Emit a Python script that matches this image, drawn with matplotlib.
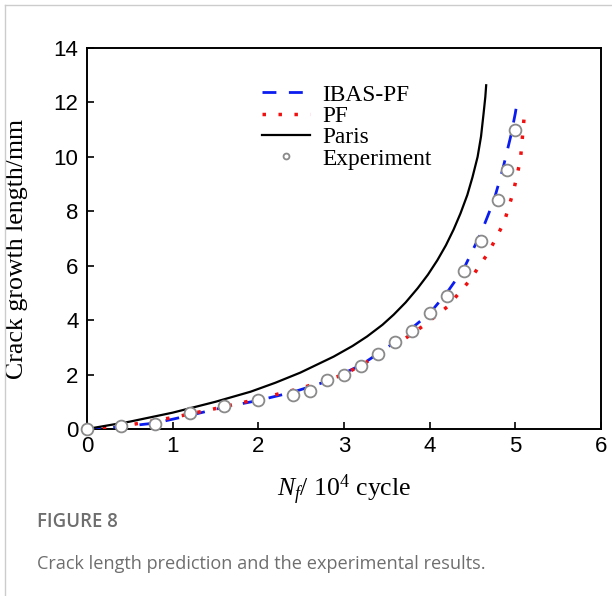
import numpy as np
import matplotlib as mpl
mpl.use('Agg')
import matplotlib.pyplot as plt
from matplotlib.lines import Line2D

# experimental points (Nf in 10^4 cycles, crack length in mm)
exp_n = [0, 0.4, 0.8, 1.2, 1.6, 2.0, 2.4, 2.6, 2.8, 3.0, 3.2, 3.4, 3.6, 3.8, 4.0, 4.2, 4.4, 4.6, 4.8, 4.9, 5.0]
exp_a = [0, 0.1, 0.2, 0.6, 0.85, 1.05, 1.25, 1.4, 1.8, 2.0, 2.3, 2.75, 3.2, 3.6, 4.25, 4.9, 5.8, 6.9, 8.4, 9.5, 11.0]

# IBAS-PF prediction
ibas_n = [0, 0.4, 0.8, 1.2, 1.6, 2.0, 2.4, 2.8, 3.2, 3.6, 4.0, 4.2, 4.4, 4.6, 4.75, 4.85, 4.95, 5.0, 5.03]
ibas_a = [0, 0.08, 0.22, 0.5, 0.8, 1.05, 1.35, 1.75, 2.35, 3.2, 4.25, 5.0, 5.9, 7.2, 8.4, 9.5, 10.8, 11.6, 12.2]

# PF prediction
pf_n = [0, 0.5, 1.0, 1.5, 2.0, 2.5, 3.0, 3.27, 3.58, 3.93, 4.21, 4.46, 4.69, 4.87, 4.98, 5.06, 5.11]
pf_a = [0, 0.15, 0.42, 0.75, 1.1, 1.5, 2.0, 2.47, 3.03, 3.8, 4.5, 5.43, 6.5, 7.6, 8.75, 9.9, 11.7]

# Paris law
paris_n = [0, 0.5, 1.0, 1.5, 1.91, 2.2, 2.49, 2.88, 3.1, 3.27, 3.45, 3.58, 3.72, 3.86, 3.98, 4.09, 4.19,
           4.28, 4.36, 4.44, 4.5, 4.56, 4.6, 4.63, 4.65, 4.66]
paris_a = [0, 0.27, 0.6, 1.0, 1.37, 1.7, 2.07, 2.66, 3.05, 3.4, 3.83, 4.2, 4.65, 5.17, 5.67, 6.2, 6.75,
           7.33, 7.92, 8.6, 9.25, 10.0, 10.75, 11.6, 12.2, 12.63]

plt.rcParams['mathtext.fontset'] = 'custom'
plt.rcParams['mathtext.rm'] = 'Liberation Serif'
plt.rcParams['mathtext.it'] = 'Liberation Serif:italic'

fig = plt.figure(figsize=(6.12, 5.96), dpi=100)
ax = fig.add_axes([0.142, 0.2802, 0.840, 0.6393])

ax.plot(ibas_n, ibas_a, color='#0a1cf0', lw=2.0, dashes=(5, 4.5), label='IBAS-PF', zorder=3)
ax.plot(pf_n, pf_a, color='#f01010', lw=2.5, dashes=(1, 3.6), label='PF', zorder=3)
ax.plot(paris_n, paris_a, color='black', lw=1.6, label='Paris', zorder=3)
ax.plot(exp_n, exp_a, ls='none', marker='o', ms=8.5, mfc='white', mec='#8a8a8a', mew=1.3,
        label='Experiment', zorder=4, clip_on=False)

ax.set_xlim(0, 6)
ax.set_ylim(0, 14)
ax.set_xticks(range(0, 7))
ax.set_yticks(range(0, 15, 2))
for s in ax.spines.values():
    s.set_linewidth(1.4)
ax.tick_params(direction='in', length=5, width=1.2, labelsize=16, top=False, right=False)
ax.tick_params(axis='x', pad=5)
ax.tick_params(axis='y', pad=6)
for lab in ax.get_xticklabels() + ax.get_yticklabels():
    lab.set_fontfamily('Liberation Sans')

ax.set_ylabel('Crack growth length/mm', fontsize=18.6, fontfamily='Liberation Serif')
ax.yaxis.set_label_coords(-0.115, 0.472)
ax.set_xlabel(r'$N_f$/ 10$^4$ cycle', fontsize=18.5, fontfamily='Liberation Serif', labelpad=11)

leg = ax.legend(loc='upper left', bbox_to_anchor=(0.34, 0.905), frameon=False,
                prop={'family': 'Liberation Serif', 'size': 16.8}, handlelength=2.05,
                handletextpad=0.55, labelspacing=0.0, borderpad=0, borderaxespad=0,
                markerscale=0.5)

# panel frame and caption
fig.add_artist(Line2D([5/612, 5/612], [0, 1 - 5/596], color='#cccccc', lw=1.0))
fig.add_artist(Line2D([5/612, 1], [1 - 5/596, 1 - 5/596], color='#cccccc', lw=1.0))
fig.text(37/612, 1 - 522/596, 'FIGURE 8', fontsize=13.4, fontfamily='Open Sans',
         fontweight='semibold', color='#6e6e6e', va='center')
fig.text(37/612, 1 - 564/596, 'Crack length prediction and the experimental results.',
         fontsize=13.1, fontfamily='Open Sans', color='#6e6e6e', va='center')

fig.savefig('out.png', dpi=100)
